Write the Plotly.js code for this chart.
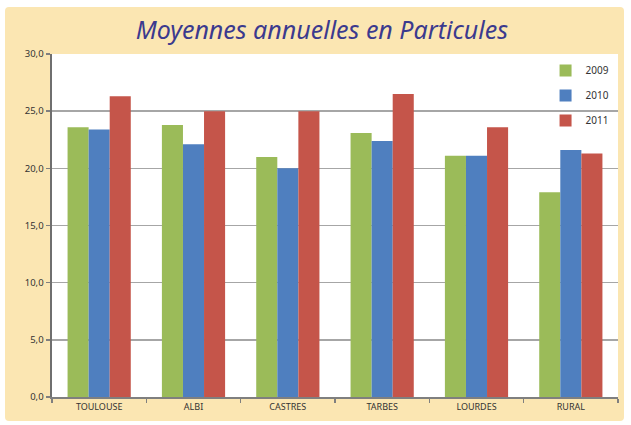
<!DOCTYPE html>
<html>
<head>
<meta charset="utf-8">
<script src="https://cdn.plot.ly/plotly-3.0.1.min.js"></script>
<style>
html,body{margin:0;padding:0;background:#fff;}
#wrap{position:relative;width:631px;height:425px;}
#bg{position:absolute;left:5px;top:7px;width:619px;height:414px;background:#fbe6b2;border-radius:4px;}
#chart{position:absolute;left:0;top:0;width:631px;height:425px;}
</style>
</head>
<body>
<div id="wrap"><div id="bg"></div><div id="chart"></div></div>
<script>
const categories = ["TOULOUSE", "ALBI", "CASTRES", "TARBES", "LOURDES", "RURAL"];
const years = ["2009", "2010", "2011"];
const v2009 = [23.6, 23.8, 21.0, 23.1, 21.1, 17.9];
const v2010 = [23.4, 22.1, 20.0, 22.4, 21.1, 21.6];
const v2011 = [26.3, 25.0, 25.0, 26.5, 23.6, 21.3];
const yTicks = [0, 5, 10, 15, 20, 25, 30];
const colors = ["#9bbb59", "#4f7fbf", "#c5554a"];
const series = [v2009, v2010, v2011];

const traces = series.map((vals, i) => ({
  type: "bar",
  name: years[i],
  x: categories,
  y: vals,
  marker: {color: colors[i], line: {width: 0}},
  legendgroup: years[i],
  hoverinfo: "x+y+name"
}));

const layout = {
  width: 631, height: 425,
  paper_bgcolor: "rgba(0,0,0,0)",
  plot_bgcolor: "#ffffff",
  margin: {l: 52, r: 13, t: 54, b: 28, autoexpand: false},
  title: {
    text: "Moyennes annuelles en Particules",
    font: {family: "Noto Sans", size: 25, color: "#3b3a8e", style: "italic"},
    x: 0.51, xanchor: "center", y: 0.93, yanchor: "middle"
  },
  separators: ", ",
  barmode: "group",
  bargap: 0.33,
  bargroupgap: 0,
  showlegend: true,
  legend: {
    x: 0.872, y: 0.994, xanchor: "left", yanchor: "top",
    bgcolor: "rgba(0,0,0,0)",
    font: {family: "Noto Sans", size: 10, color: "#333"},
    traceorder: "grouped",
    tracegroupgap: 6,
    itemwidth: 30
  },
  xaxis: {
    type: "category",
    showline: true, linecolor: "#7f7f7f", linewidth: 2,
    ticks: "outside", tickson: "boundaries", ticklen: 4, tickcolor: "#7f7f7f", tickwidth: 1.5,
    tickfont: {family: "Noto Sans", size: 9, color: "#333"},
    showgrid: false, zeroline: false
  },
  yaxis: {
    range: [0, 30],
    tickvals: yTicks,
    tickformat: ".1f",
    showline: true, linecolor: "#6f6f6f", linewidth: 2.5,
    ticks: "outside", ticklen: 4, tickcolor: "#7f7f7f", tickwidth: 1.5,
    tickfont: {family: "Noto Sans", size: 9.5, color: "#333"},
    showgrid: true, gridcolor: "#a6a6a6", gridwidth: 1.5,
    zeroline: false
  }
};

Plotly.newPlot("chart", traces, layout, {displayModeBar: false, staticPlot: true});
</script>
</body>
</html>
